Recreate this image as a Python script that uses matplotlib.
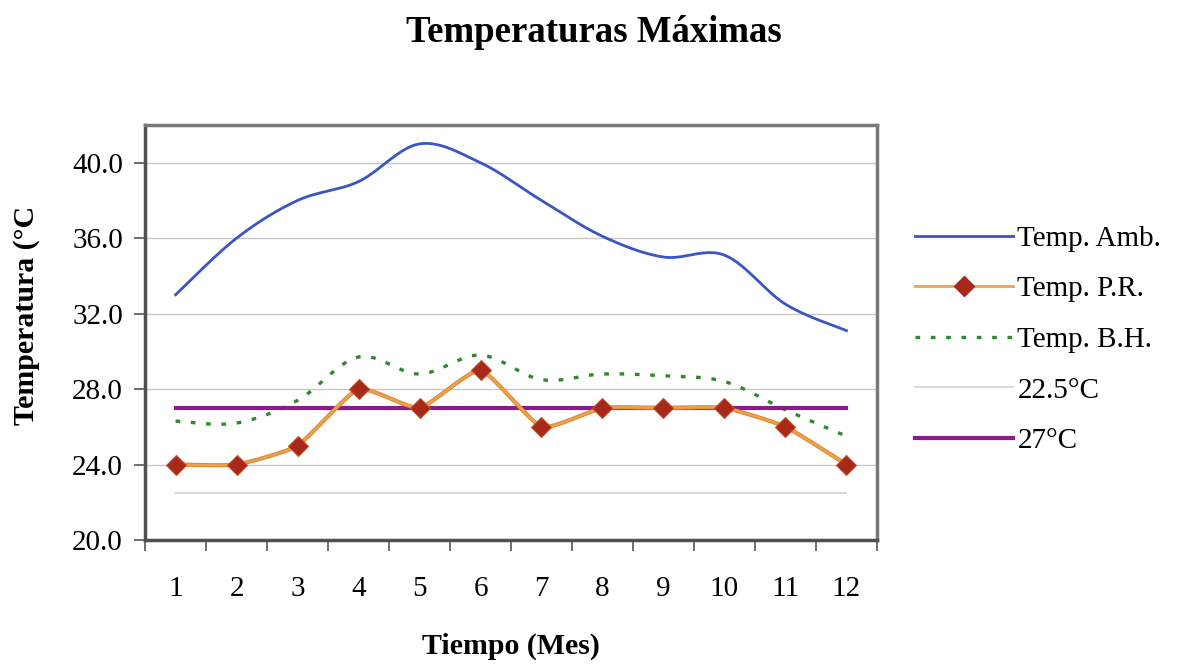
import numpy as np
import matplotlib
matplotlib.use("Agg")
import matplotlib.pyplot as plt
from matplotlib.lines import Line2D

plt.rcParams['font.family'] = ['Liberation Serif', 'DejaVu Serif']

meses = [1, 2, 3, 4, 5, 6, 7, 8, 9, 10, 11, 12]
temp_amb = [33.0, 36.0, 38.0, 39.0, 41.0, 40.0, 38.0, 36.1, 35.0, 35.1, 32.5, 31.1]
temp_pr = [24.0, 24.0, 25.0, 28.0, 27.0, 29.0, 26.0, 27.0, 27.0, 27.0, 26.0, 24.0]
temp_bh = [26.3, 26.2, 27.4, 29.7, 28.8, 29.8, 28.5, 28.8, 28.7, 28.4, 26.9, 25.5]
limite_bajo = 22.5
limite_alto = 27.0
y_ticks = [20, 24, 28, 32, 36, 40]


def suavizar(x, y, n=24, tension=1.0):
    """Smoothed curve through the points (Catmull-Rom as cubic Bezier)."""
    p = np.column_stack([x, y]).astype(float)
    k = tension / 6.0
    out = []
    for i in range(len(p) - 1):
        p0 = p[i - 1] if i > 0 else p[i]
        p1, p2 = p[i], p[i + 1]
        p3 = p[i + 2] if i + 2 < len(p) else p[i + 1]
        c1 = p1 + (p2 - p0) * k
        c2 = p2 - (p3 - p1) * k
        t = np.linspace(0, 1, n, endpoint=(i == len(p) - 2))[:, None]
        seg = ((1 - t) ** 3) * p1 + 3 * ((1 - t) ** 2) * t * c1 + 3 * (1 - t) * t ** 2 * c2 + t ** 3 * p2
        out.append(seg)
    s = np.vstack(out)
    return s[:, 0], s[:, 1]


fig = plt.figure(figsize=(11.87, 6.65), dpi=100)
ax = fig.add_axes([0.1222, 0.188, 0.6166, 0.624])

c_amb = '#3A55C4'
c_pr = '#F0A04B'
c_mk = '#A8281C'
c_bh = '#2F8A2F'
c_bajo = '#D9D9D9'
c_alto = '#8B1A8B'

ax.set_xlim(0.5, 12.5)
ax.set_ylim(20, 42)
ax.set_yticks(y_ticks)
ax.set_yticklabels([f"{v:.1f}" for v in y_ticks])
ax.grid(axis='y', color='#C8C8C8', linewidth=1.0)
ax.set_axisbelow(True)

xs, ys = suavizar(meses, temp_amb)
ax.plot(xs, ys, color=c_amb, lw=2.0, zorder=3)

ax.plot([meses[0], meses[-1]], [limite_bajo, limite_bajo], color=c_bajo, lw=1.5, zorder=2)

xs, ys = suavizar(meses, temp_bh)
ax.plot(xs, ys, color=c_bh, lw=2.4, dashes=(1.4, 3.2), zorder=3)

ax.plot([meses[0], meses[-1]], [limite_alto, limite_alto], color=c_alto, lw=3.0, zorder=3)

xs, ys = suavizar(meses, temp_pr, tension=0.5)
ax.plot(xs, ys, color='#D98A30', lw=3.0, zorder=4)
ax.plot(xs, ys, color=c_pr, lw=1.6, zorder=4)
ax.plot(meses, temp_pr, ls='none', marker='D', ms=10, color=c_mk,
        markeredgecolor='#C0502A', markeredgewidth=0.8, zorder=5)

# category ticks between months, labels centred on months
ax.set_xticks(np.arange(0.5, 13.0, 1.0))
ax.set_xticklabels([])
ax.set_xticks(meses, minor=True)
ax.set_xticklabels([str(m) for m in meses], minor=True)
ax.tick_params(axis='x', which='major', length=8, width=1.2, color='#555555', direction='out')
ax.tick_params(axis='x', which='minor', length=0, pad=26, labelsize=21)
ax.tick_params(axis='y', length=8, width=1.2, color='#555555', direction='out', pad=8, labelsize=21)

for side in ['left', 'bottom']:
    ax.spines[side].set_color('#505050')
    ax.spines[side].set_linewidth(2.5)
for side in ['top', 'right']:
    ax.spines[side].set_color('#7A7A7A')
    ax.spines[side].set_linewidth(2.5)

ax.set_ylabel('Temperatura (°C', fontsize=21.5, fontweight='bold')
ax.yaxis.set_label_coords(-0.143, 0.54)
ax.set_xlabel('Tiempo (Mes)', fontsize=21.5, fontweight='bold', labelpad=22)
fig.suptitle('Temperaturas Máximas', fontsize=26.5, fontweight='bold', y=0.978)

handles = [
    Line2D([], [], color=c_amb, lw=2.0),
    Line2D([], [], color=c_pr, lw=2.0, marker='D', ms=10, markerfacecolor=c_mk,
           markeredgecolor=c_mk),
    Line2D([], [], color=c_bh, lw=2.4, dashes=(1.4, 3.2)),
    Line2D([], [], color=c_bajo, lw=1.5),
    Line2D([], [], color=c_alto, lw=3.0),
]
labels = ['Temp. Amb.', 'Temp. P.R.', 'Temp. B.H.', '22.5°C', '27°C']
fig.legend(handles, labels, loc='center left', bbox_to_anchor=(0.749, 0.489),
           frameon=False, fontsize=21, handlelength=3.35, handletextpad=0.15,
           labelspacing=0.83, markerscale=1.0)

fig.savefig('out.png', dpi=100, facecolor='white')
